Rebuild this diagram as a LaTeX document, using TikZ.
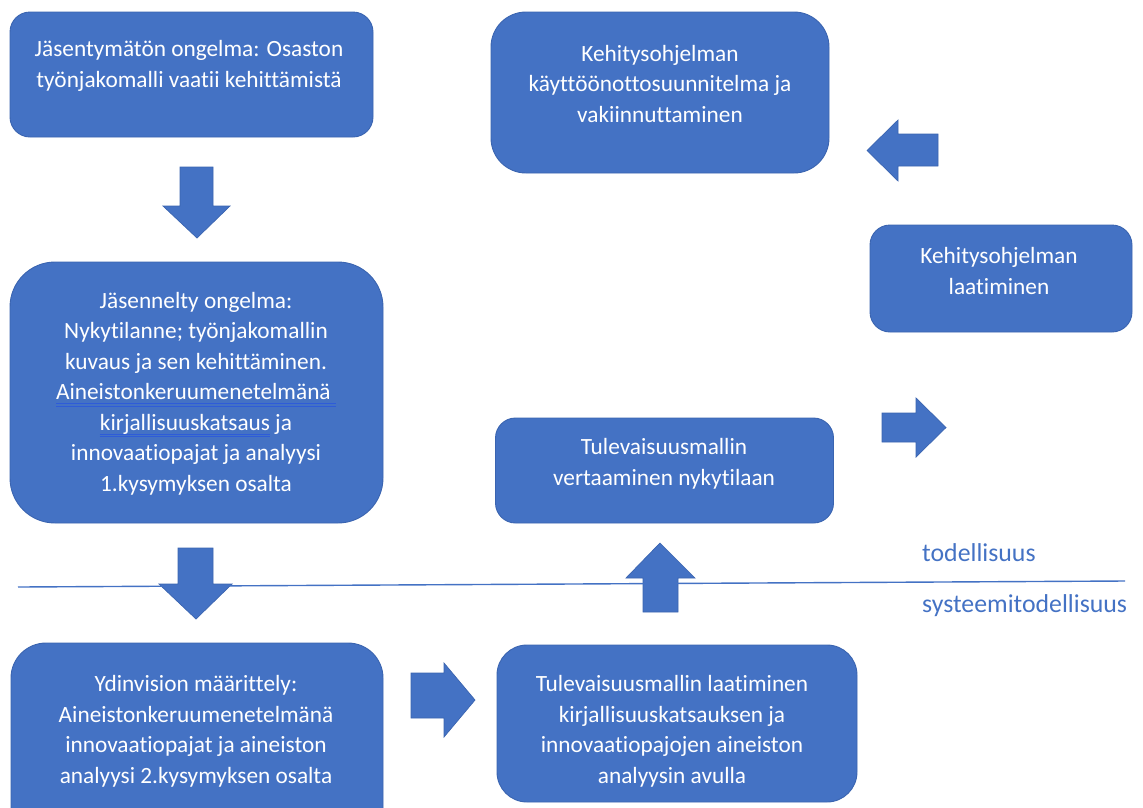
\documentclass[tikz,border=0pt]{standalone}
\usepackage{fontspec}
\setmainfont{Carlito}[Ligatures={NoCommon}]
\definecolor{boxfill}{HTML}{4472C4}
\definecolor{boxline}{HTML}{3A64B0}
\definecolor{ulblue}{HTML}{2E5CD8}
\newcommand\dblul[1]{\setbox0\hbox{#1}\rlap{\color{ulblue}\rule[-4.5pt]{\wd0}{1pt}}\rlap{\color{ulblue}\rule[-6.8pt]{\wd0}{1pt}}\box0\relax}
\tikzset{
  box/.style={draw=boxline, line width=0.9pt, fill=boxfill, inner sep=0pt},
  boxtext/.style={text=white, align=center, inner sep=0pt, font=\fontsize{23.3}{30.5}\selectfont},
  blockarrow/.style={draw=boxline, line width=0.7pt, fill=boxfill},
  sepline/.style={draw=boxfill, line width=1.4pt},
  realm/.style={text=boxfill, inner sep=0pt, font=\fontsize{25.8}{28}\selectfont}
}
\begin{document}
\begin{tikzpicture}[x=1pt,y=-1pt]
\useasboundingbox (0,0) rectangle (1143,807);
\clip (0,0) rectangle (1143,807);

% boxes
\node[box, rounded corners=20pt, minimum width=363pt, minimum height=125pt] (A) at (191.5,74.5) {};
\node[boxtext] (tA) at (189,66) {Jäsentymätön ongelma: Osaston\\työnjakomalli vaatii kehittämistä};

\node[box, rounded corners=45pt, minimum width=373pt, minimum height=261pt] (B) at (196.5,392.5) {};
\node[boxtext] (tB) at (196,393.5) {Jäsennelty ongelma:\\Nykytilanne; työnjakomallin\\kuvaus ja sen kehittäminen.\\\dblul{Aineistonkeruumenetelmänä\ }\\\dblul{kirjallisuuskatsaus} ja\\innovaatiopajat ja analyysi\\1.kysymyksen osalta};

\node[box, rounded corners=35pt, minimum width=372pt, minimum height=200pt] (C) at (197,743) {};
\node[boxtext] (tC) at (196,731.5) {Ydinvision määrittely:\\Aineistonkeruumenetelmänä\\innovaatiopajat ja aineiston\\analyysi 2.kysymyksen osalta};

\node[box, rounded corners=30pt, minimum width=360pt, minimum height=157pt] (D) at (677,723.5) {};
\node[boxtext] (tD) at (672,731.5) {Tulevaisuusmallin laatiminen\\kirjallisuuskatsauksen ja\\innovaatiopajojen aineiston\\analyysin avulla};

\node[box, rounded corners=20pt, minimum width=338pt, minimum height=105pt] (E) at (664.5,470.5) {};
\node[boxtext] (tE) at (664,464) {Tulevaisuusmallin\\vertaaminen nykytilaan};

\node[box, rounded corners=35pt, minimum width=338pt, minimum height=161pt] (F) at (660,92.5) {};
\node[boxtext] (tF) at (660,83.5) {Kehitysohjelman\\käyttöönottosuunnitelma ja\\vakiinnuttaminen};

\node[box, rounded corners=20pt, minimum width=262pt, minimum height=107pt] (G) at (1001,278.5) {};
\node[boxtext] (tG) at (999,271) {Kehitysohjelman\\laatiminen};

% block arrows
\draw[blockarrow] (180,167) -- (213,167) -- (213,206) -- (230,206) -- (197,238) -- (163,206) -- (180,206) -- cycle;
\draw[blockarrow] (178,548) -- (213,548) -- (213,584) -- (232,584) -- (196,619) -- (159,584) -- (178,584) -- cycle;
\draw[blockarrow] (411,673) -- (444,673) -- (444,663) -- (475,700) -- (444,737) -- (444,718) -- (411,718) -- cycle;
\draw[blockarrow] (643,612) -- (643,578) -- (626,578) -- (660,543) -- (695,578) -- (678,578) -- (678,612) -- cycle;
\draw[blockarrow] (882,413) -- (916,413) -- (916,398) -- (946,427.5) -- (916,457) -- (916,442) -- (882,442) -- cycle;
\draw[blockarrow] (938,134) -- (898,134) -- (898,120) -- (867,150.5) -- (898,181) -- (898,166) -- (938,166) -- cycle;

% separation line
\coordinate (L1) at (18,587);
\coordinate (L2) at (1125,581);
\draw[sepline] (L1) -- (L2);
\node[realm, anchor=west] (real) at (922,553) {todellisuus};
\node[realm, anchor=west] (sysreal) at (922,606) {systeemitodellisuus};
\end{tikzpicture}
\end{document}
